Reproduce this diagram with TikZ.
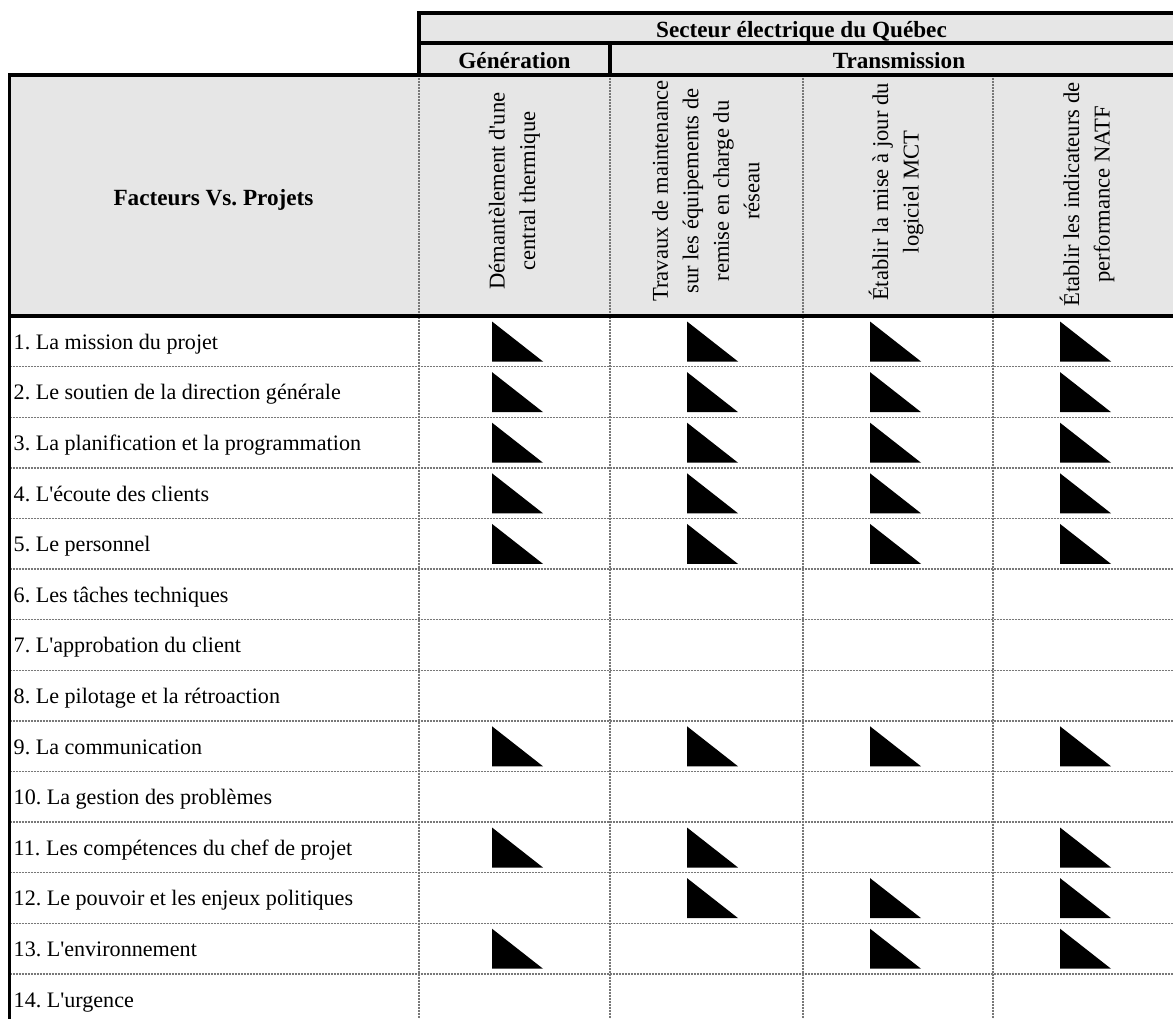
\documentclass[tikz,border=0pt]{standalone}
\usepackage{fontspec}
\setmainfont{Liberation Serif}
\newfontfamily\tnr{Liberation Serif}
\definecolor{hdr}{RGB}{230,230,230}
\definecolor{gridc}{RGB}{120,120,120}
\frenchspacing
\newcommand\mylblfont{\tnr\fontsize{22.1}{26}\selectfont}
\begin{document}
\begin{tikzpicture}[x=1pt,y=-1pt,
  thickline/.style={line width=3.2pt, draw=black},
  gridline/.style={line width=1.4pt, draw=gridc, dash pattern=on 1pt off 0.5pt},
  lbl/.style={anchor=base west, inner sep=0pt, font=\mylblfont},
  hb/.style={anchor=base, inner sep=0pt, font=\tnr\fontsize{23.2}{26}\bfseries\selectfont},
  rot/.style={rotate=90, align=center, inner sep=0pt, font=\tnr\fontsize{22.6}{30.5}\selectfont},
  tri/.style={fill=black}]
\useasboundingbox (0,0) rectangle (1173,1019);
\clip (0,0) rectangle (1173,1019);
% header fills
\fill[hdr] (419,13) rectangle (1184,75);
\fill[hdr] (9.5,75) rectangle (1184,316);
% thin grid
\foreach \x in {419,610,803,993} \draw[gridline] (\x,75) -- (\x,1030);
\foreach \k in {1,...,13} \draw[gridline] (9.5,316+\k*50.6) -- (1184,316+\k*50.6);
% thick borders
\draw[thickline] (419,13) -- (1184,13);
\draw[thickline] (419,43) -- (1184,43);
\draw[thickline] (8,75) -- (1184,75);
\draw[thickline] (8,316) -- (1184,316);
\draw[thickline] (419,11.4) -- (419,75);
\draw[thickline] (610,43) -- (610,75);
\draw[thickline] (9.5,73.4) -- (9.5,1030);
% header texts
\node[hb] (secteur) at (801.5,37.3) {Secteur électrique du Québec};
\node[hb] (gen) at (514.5,68.3) {Génération};
\node[hb] (trans) at (899,68.3) {Transmission};
\node[hb] (fvp) at (213.5,205.7) {Facteurs Vs. Projets};
\node[rot] (p1) at (514.5,191) {Démantèlement d'une\\central thermique};
\node[rot] (p2) at (706,191) {Travaux de maintenance\\sur les équipements de\\remise en charge du\\réseau};
\node[rot] (p3) at (896,192) {Établir la mise à jour du\\logiciel MCT};
\node[rot] (p4) at (1087,194.5) {Établir les indicateurs de\\performance NATF};
% row labels
\foreach \k/\t in {1/{1. La mission du projet},
  2/{2. Le soutien de la direction générale},
  3/{3. La planification et la programmation},
  4/{4. L'écoute des clients},
  5/{5. Le personnel},
  6/{6. Les tâches techniques},
  7/{7. L'approbation du client},
  8/{8. Le pilotage et la rétroaction},
  9/{9. La communication},
  10/{10. La gestion des problèmes},
  11/{11. Les compétences du chef de projet},
  12/{12. Le pouvoir et les enjeux politiques},
  13/{13. L'environnement},
  14/{14. L'urgence}}
  \node[lbl] (r\k) at (13.5,316+\k*50.6-50.6+33.2) {\t};
% triangles
\foreach \r/\c in {1/1,1/2,1/3,1/4,2/1,2/2,2/3,2/4,3/1,3/2,3/3,3/4,4/1,4/2,4/3,4/4,
  5/1,5/2,5/3,5/4,9/1,9/2,9/3,9/4,11/1,11/2,11/4,12/2,12/3,12/4,13/1,13/3,13/4}{
  \pgfmathsetmacro{\L}{{0,492,687,870,1060}[\c]}
  \pgfmathsetmacro{\T}{316+(\r-1)*50.6}
  \fill[tri] (\L,\T+5.5) -- (\L,\T+45.5) -- (\L+51,\T+45.5) -- cycle;
}
\end{tikzpicture}
\end{document}
